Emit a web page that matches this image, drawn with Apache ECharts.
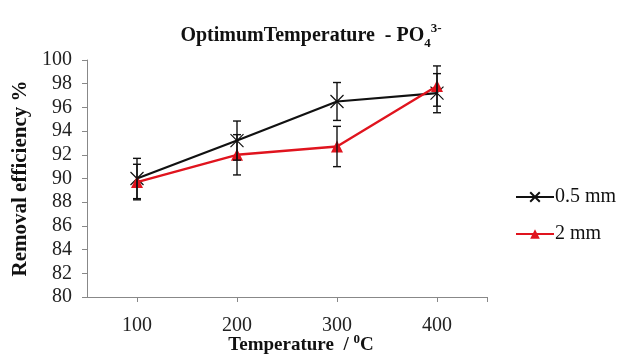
<!DOCTYPE html>
<html lang="en">
<head>
<meta charset="UTF-8">
<title>Optimum Temperature</title>
<script src="https://cdn.jsdelivr.net/npm/echarts@6/dist/echarts.min.js"></script>
<style>
  body { margin: 0; background: #fff; }
</style>
</head>
<body>
<div id="chart" style="width:622px; height:362px;"></div>
<script>
// temperatures (x) and removal efficiency values
var temps = [100, 200, 300, 400];
var fine = [90.0, 93.2, 96.5, 97.2];      // 0.5 mm
var fineErr = [1.7, 1.65, 1.6, 1.65];
var coarse = [89.7, 92.0, 92.7, 97.8];    // 2 mm
var coarseErr = [1.5, 1.7, 1.7, 1.7];

var serif = "'Liberation Serif', 'DejaVu Serif', serif";

function pairs(vals) {
  return temps.map(function (t, i) { return [t, vals[i]]; });
}
function errData(vals, errs) {
  return temps.map(function (t, i) { return [t, vals[i] - errs[i], vals[i] + errs[i]]; });
}

// vertical error bar with caps
function renderErr(params, api) {
  var lo = api.coord([api.value(0), api.value(1)]);
  var hi = api.coord([api.value(0), api.value(2)]);
  var w = 4;
  var st = { stroke: '#111', lineWidth: 1.4 };
  return {
    type: 'group',
    children: [
      { type: 'line', shape: { x1: lo[0], y1: lo[1], x2: hi[0], y2: hi[1] }, style: st },
      { type: 'line', shape: { x1: lo[0] - w, y1: lo[1], x2: lo[0] + w, y2: lo[1] }, style: st },
      { type: 'line', shape: { x1: hi[0] - w, y1: hi[1], x2: hi[0] + w, y2: hi[1] }, style: st }
    ]
  };
}

var myChart = echarts.init(document.getElementById('chart'));
var option = {
  backgroundColor: '#fff',
  animation: false,
  title: {
    text: 'OptimumTemperature  - PO{sub|4}{sup|3-}',
    left: 306,
    textAlign: 'center',
    top: 17,
    textStyle: {
      fontFamily: serif, fontWeight: 'bold', fontSize: 20, color: '#111', lineHeight: 28,
      rich: {
        sub: { fontFamily: serif, fontWeight: 'bold', fontSize: 13, verticalAlign: 'bottom', lineHeight: 13 },
        sup: { fontFamily: serif, fontWeight: 'bold', fontSize: 13, verticalAlign: 'top', lineHeight: 13 }
      }
    }
  },
  legend: {
    orient: 'vertical',
    left: 510,
    top: 182,
    itemWidth: 38,
    itemHeight: 12,
    itemGap: 17,
    textStyle: { fontFamily: serif, fontSize: 20, color: '#111', padding: [0, 0, 0, -4] },
    data: ['0.5 mm', '2 mm']
  },
  grid: { left: 87, right: 135, top: 60, bottom: 65, outerBoundsMode: 'none' },
  xAxis: {
    type: 'value',
    min: 50,
    max: 450,
    name: 'Temperature  / {sup|0}C',
    nameLocation: 'middle',
    nameGap: 36,
    nameMoveOverlap: false,
    nameTextStyle: {
      fontFamily: serif, fontWeight: 'bold', fontSize: 19, color: '#111', lineHeight: 24,
      padding: [0, 0, 0, 28],
      rich: { sup: { fontFamily: serif, fontWeight: 'bold', fontSize: 13, verticalAlign: 'top', lineHeight: 13 } }
    },
    axisLine: { lineStyle: { color: '#888', width: 1 } },
    axisTick: { show: true, length: 5, inside: false, customValues: [100, 200, 300, 400, 450], lineStyle: { color: '#888' } },
    axisLabel: { customValues: temps, fontFamily: serif, fontSize: 20, color: '#222', margin: 19 },
    splitLine: { show: false }
  },
  yAxis: {
    type: 'value',
    min: 80,
    max: 100,
    interval: 2,
    name: 'Removal efficiency %',
    nameLocation: 'middle',
    nameGap: 56,
    nameMoveOverlap: false,
    nameTextStyle: { fontFamily: serif, fontWeight: 'bold', fontSize: 21, color: '#111' },
    axisLine: { show: true, lineStyle: { color: '#888', width: 1 } },
    axisTick: { show: true, length: 5, lineStyle: { color: '#888' } },
    axisLabel: { fontFamily: serif, fontSize: 20, color: '#222', margin: 15 },
    splitLine: { show: false }
  },
  series: [
    {
      name: '0.5 mm',
      type: 'line',
      data: pairs(fine),
      symbol: 'path://M0,0L10,10M10,0L0,10',
      symbolSize: 13,
      lineStyle: { color: '#111', width: 2.2 },
      itemStyle: { color: 'rgba(0,0,0,0)', borderColor: '#111', borderWidth: 1.2 },
      z: 3
    },
    {
      name: '2 mm',
      type: 'line',
      data: pairs(coarse),
      symbol: 'triangle',
      symbolSize: 12,
      lineStyle: { color: '#e0141e', width: 2.4 },
      itemStyle: { color: '#e0141e' },
      z: 4
    },
    {
      type: 'custom',
      renderItem: renderErr,
      data: errData(fine, fineErr),
      encode: { x: 0, y: [1, 2] },
      z: 5
    },
    {
      type: 'custom',
      renderItem: renderErr,
      data: errData(coarse, coarseErr),
      encode: { x: 0, y: [1, 2] },
      z: 5
    }
  ]
};
myChart.setOption(option);
</script>
</body>
</html>
